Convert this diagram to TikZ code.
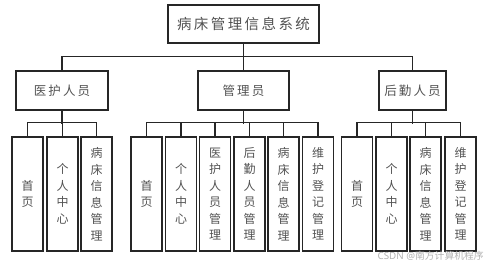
\documentclass[tikz,border=0pt]{standalone}
\usepackage{fontspec}
\newfontfamily\cjk{Noto Sans CJK SC}
\setsansfont{Noto Sans}
\begin{document}
\begin{tikzpicture}[x=1pt,y=-1pt,
  line width=1.2pt, draw=black!85,
  box/.style={draw=black!85, line width=1.2pt, inner sep=0pt, text=black!68},
  child/.style={box, minimum width=31pt, minimum height=114pt, align=center,
    font=\cjk\fontsize{12}{16.5}\selectfont},
  grp/.style={box, minimum height=39pt, font=\cjk\fontsize{12.5}{14}\selectfont}]
\useasboundingbox (0,0) rectangle (499,265);
\node[box, minimum width=151pt, minimum height=38pt, font=\cjk\fontsize{14.5}{17}\selectfont] (top) at (243.5,24) {病\,床\,管\,理\,信\,息\,系\,统};
\node[grp, minimum width=92pt] (g1) at (62,90.5) {医\,护\,人\,员};
\node[grp, minimum width=91pt] (g2) at (243.5,90.5) {管\,理\,员};
\node[grp, minimum width=67pt] (g3) at (412.5,90.5) {后\,勤\,人\,员};
% left
\node[child] (c11) at (27.5,194) {首\\页};
\node[child] (c12) at (62.5,194) {个\\人\\中\\心};
\node[child] (c13) at (96.5,194) {病\\床\\信\\息\\管\\理};
% middle
\node[child] (c21) at (146.5,194) {首\\页};
\node[child] (c22) at (181,194) {个\\人\\中\\心};
\node[child] (c23) at (215,194) {医\\护\\人\\员\\管\\理};
\node[child] (c24) at (249.5,194) {后\\勤\\人\\员\\管\\理};
\node[child] (c25) at (283.5,194) {病\\床\\信\\息\\管\\理};
\node[child] (c26) at (318,194) {维\\护\\登\\记\\管\\理};
% right
\node[child] (c31) at (357,194) {首\\页};
\node[child] (c32) at (391.5,194) {个\\人\\中\\心};
\node[child] (c33) at (425.5,194) {病\\床\\信\\息\\管\\理};
\node[child] (c34) at (460.5,194) {维\\护\\登\\记\\管\\理};
% connectors level 1
\draw (top.south) -- (g2.north);
\draw (g1.north) -- ++(0,-14) -| (g3.north);
% level 2
\draw (g1.south) -- ++(0,13);
\draw (c11.north) -- ++(0,-14) -| (c13.north);
\draw (c12.north) -- ++(0,-14);
\draw (g2.south) -- ++(0,13);
\draw (c21.north) -- ++(0,-14) -| (c26.north);
\foreach \c in {c22,c23,c24,c25} \draw (\c.north) -- ++(0,-14);
\draw (g3.south) -- ++(0,13);
\draw (c31.north) -- ++(0,-14) -| (c34.north);
\foreach \c in {c32,c33} \draw (\c.north) -- ++(0,-14);
% watermark
\node[anchor=west, inner sep=0pt, text=black!30, font=\sffamily\fontsize{9.8}{11}\selectfont] (wm) at (377,255.5) {CSDN @{\cjk 南方计算机程序}};
\end{tikzpicture}
\end{document}
